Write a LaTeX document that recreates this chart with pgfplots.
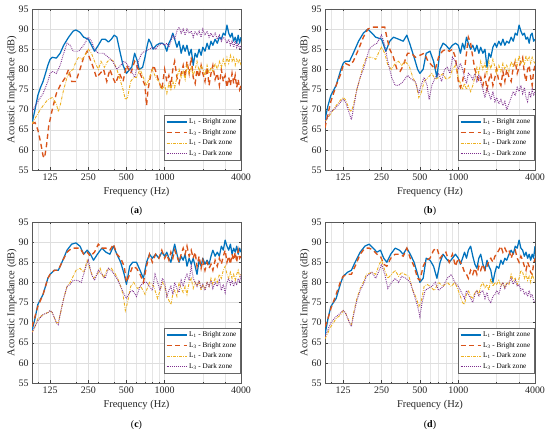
\documentclass[border=0pt]{standalone}
\usepackage{fontspec}
\setmainfont{Liberation Serif}
\usepackage{pgfplots}
\pgfplotsset{compat=1.18}
\definecolor{mblue}{rgb}{0,0.447,0.741}
\definecolor{mred}{rgb}{0.85,0.325,0.098}
\definecolor{myel}{rgb}{0.929,0.694,0.125}
\definecolor{mpur}{rgb}{0.494,0.184,0.556}
\pgfplotsset{
 myaxis/.style={
  scale only axis, width=209bp, height=161bp,
  xmin=90, xmax=4000, ymin=55, ymax=95,
  xtick={125,250,500,1000,4000}, xticklabels={125,250,500,1000,4000},
  minor xtick={100,200,300,400,600,700,800,900,2000,3000},
  ytick={55,60,...,95},
  xmajorgrids, ymajorgrids, xminorgrids,
  major grid style={black!13, line width=0.4pt},
  minor grid style={black!10, line width=0.35pt},
  tick align=inside, major tick length=2.5bp, minor tick length=1.3bp,
  every tick/.style={black!75, line width=0.4pt},
  axis line style={black!65, line width=0.5pt},
  xlabel={Frequency (Hz)}, ylabel={Acoustic Impedance (dB)},
  ylabel shift=-5bp,
  tick label style={font=\fontsize{10}{12}\selectfont, text=black!85},
  label style={font=\fontsize{10.5}{12}\selectfont, text=black!85},
  /pgf/number format/assume math mode=true,
  legend style={at={(0.995,0.06)}, anchor=south east, font=\fontsize{7.2}{8}\selectfont, draw=black!60, line width=0.4pt, inner sep=1.5pt, row sep=0pt},
  legend cell align=left,
  legend image code/.code={\draw[##1] (0bp,0bp) -- (20bp,0bp);},
 },
 sA/.style={mblue, line width=1.25bp, solid, line join=round},
 sB/.style={mred, line width=1.35bp, dash pattern=on 5bp off 3.5bp},
 sC/.style={myel, line width=0.9bp, dash pattern=on 3bp off 1.3bp on 0.6bp off 1.3bp},
 sD/.style={mpur, line width=0.95bp, dash pattern=on 0.8bp off 1.1bp},
}
\newcommand\legs{\legend{L\textsubscript{1} - Bright zone, L\textsubscript{3} - Bright zone, L\textsubscript{1} - Dark zone, L\textsubscript{3} - Dark zone}}
\begin{document}
\begin{tikzpicture}
\path[use as bounding box] (0,0) rectangle (550bp,431bp);
% ---------------- (a)
\begin{semilogxaxis}[myaxis, name=pa, at={(32bp,261bp)}, anchor=south west]
\addplot[sA] coordinates {(90,66.5)(95,70)(100,73.5)(105,75.5)(110,77)(115,79)(120,81)(125,82.5)(130,83)(140,82.8)(150,84)(160,86)(175,88)(190,89.5)(200,89.8)(215,89.2)(230,88)(250,87.5)(265,86)(280,84.5)(300,86)(320,87.5)(340,87.5)(360,86.8)(380,87.5)(400,88.5)(420,88)(440,85)(470,81)(500,79)(530,80)(550,80.5)(580,84)(610,82)(630,80)(670,80.5)(700,83)(730,86)(750,87.5)(780,86.5)(810,85)(860,86)(920,86.5)(960,86.5)
(1000,86)(1040,84.5)(1080,86.5)(1120,87.5)(1160,89)(1200,87.5)(1250,85.5)(1300,87)(1350,84)(1400,86)(1450,84.5)(1500,86)(1560,83.5)(1620,85)(1680,81)(1740,84)(1800,83)(1870,85)(1940,83.5)(2000,85.5)(2080,84.5)(2160,86.5)(2240,85)(2320,87)(2400,86)(2500,87.5)(2600,86.5)(2700,88)(2800,87.5)(2900,89)(3000,88.5)(3100,91)(3200,89)(3300,88)(3400,89)(3500,87)(3600,88)(3700,86.5)(3800,88.5)(3900,86.5)(4000,88)};
\addplot[sB] coordinates {(90,66.5)(95,66.8)(100,65)(105,62)(110,58.5)(113,58)(117,61)(122,66)(130,70)(140,74)(150,76)(165,78)(175,80)(185,77)(200,77)(215,80)(230,83)(245,84.5)(255,83)(270,81)(290,78)(310,79)(330,80)(350,77)(370,80)(390,78)(410,76.5)(440,79)(470,77)(500,81)(540,79)(580,82)(620,80)(660,78)(700,76)(720,71)(740,75)(780,79)(820,81)(860,79)(900,77)(950,75)
(1000,80)(1040,77)(1080,78.5)(1120,76)(1160,80)(1200,82)(1250,78)(1300,76.5)(1350,79)(1400,81)(1450,78)(1500,82)(1560,79)(1620,83)(1680,78)(1740,76.5)(1800,80)(1870,78)(1940,81)(2000,79)(2080,77)(2160,80.5)(2240,76)(2320,79)(2400,81)(2500,77.5)(2600,79)(2700,76)(2800,80)(2900,77)(3000,78.5)(3100,75.5)(3200,78)(3300,76)(3400,79)(3500,76.5)(3600,78.5)(3700,75.5)(3800,77.5)(3900,75)(4000,76)};
\addplot[sC] coordinates {(90,66.5)(100,69)(110,71)(120,72.5)(130,73)(140,71.5)(145,69.5)(150,71)(160,75)(170,78)(180,79.5)(190,80)(200,82)(210,83)(225,82.5)(240,84)(250,85)(265,84)(280,82)(300,80)(315,82)(335,80.5)(355,82)(375,82.5)(395,82)(420,80)(440,78)(470,75)(490,72.5)(510,73)(540,77)(570,78)(600,78)(640,80)(680,78)(720,76)(760,78)(800,80)(850,78)(900,77)(950,75)
(1000,76)(1040,74)(1080,76.5)(1120,75)(1160,77)(1200,75.5)(1250,78)(1300,80)(1350,78)(1400,79.5)(1450,77.5)(1500,81)(1560,79)(1620,80.5)(1680,78.5)(1740,80)(1800,82)(1870,79.5)(1940,81)(2000,80)(2080,78.5)(2160,81)(2240,79)(2320,80.5)(2400,79.5)(2500,81.5)(2600,80)(2700,82)(2800,80.5)(2900,82.5)(3000,81)(3100,83)(3200,81.5)(3300,83.5)(3400,82)(3500,83)(3600,81)(3700,82.5)(3800,81.5)(3900,82.5)(4000,81)};
\addplot[sD] coordinates {(90,69.5)(100,72)(110,74)(120,77)(125,79)(130,79.5)(140,79)(150,81)(160,84)(170,86.5)(180,86)(190,84.5)(210,84.5)(230,86)(250,88)(265,87)(280,85)(300,84)(330,84)(360,83)(390,82)(420,80)(450,81)(480,82)(500,81.5)(540,80)(580,78)(620,82)(660,84)(700,84.5)(760,85)(800,85.5)(850,85)(900,86)(950,86.5)
(1000,86)(1040,86.5)(1080,85.5)(1120,87)(1160,88.5)(1200,87.5)(1250,89.5)(1300,90.5)(1350,89)(1400,90)(1450,88.5)(1500,90)(1560,89)(1620,89.5)(1680,88)(1740,89.5)(1800,88.5)(1870,89.5)(1940,88)(2000,90)(2080,88.5)(2160,89.5)(2240,88)(2320,89)(2400,88)(2500,89)(2600,87.5)(2700,88.5)(2800,87)(2900,88)(3000,87.5)(3100,86.5)(3200,87.5)(3300,86)(3400,87)(3500,85.5)(3600,87)(3700,85.5)(3800,86.5)(3900,85)(4000,86)};
\legs
\end{semilogxaxis}
% ---------------- (b)
\begin{semilogxaxis}[myaxis, name=pb, at={(325bp,261bp)}, anchor=south west, width=210bp]
\addplot[sA] coordinates {(90,67.5)(95,71)(100,73.5)(110,76)(120,80)(125,81.5)(130,82)(140,82)(150,84)(165,87)(180,89)(195,90)(210,89)(225,88)(250,87.5)(270,84.5)(290,87)(310,88)(340,87.5)(370,87)(395,88.5)(420,86)(450,83)(480,80)(500,79)(530,80)(560,84)(600,84.5)(640,82)(680,78)(720,85)(760,86.5)(800,86)(850,85)(900,86)(950,86.5)
(1000,86)(1040,84)(1080,86.5)(1120,85)(1160,88)(1200,86.5)(1250,85)(1300,86)(1350,84.5)(1400,86)(1450,84)(1500,85.5)(1560,84)(1620,85)(1680,80.5)(1740,84)(1800,83)(1870,85.5)(1940,86.5)(2000,85.5)(2080,87)(2160,86)(2240,87.5)(2320,86)(2400,87)(2500,86.5)(2600,88)(2700,87)(2800,89)(2900,88.5)(3000,91)(3100,89.5)(3200,88.5)(3300,89)(3400,87.5)(3500,88)(3600,86.5)(3700,88.5)(3800,89)(3900,87)(4000,87.5)};
\addplot[sB] coordinates {(90,65.5)(95,69)(100,72)(110,76)(120,79)(125,81)(130,81.5)(140,81)(150,82)(165,85)(180,88)(195,90)(210,90.5)(230,90.5)(250,90.5)(265,90.5)(275,88)(290,85)(310,83)(330,80)(350,79.5)(370,81)(400,84)(430,84)(460,83)(500,83.5)(540,84)(580,82)(620,81)(660,80)(700,83)(750,84.5)(800,85)(850,84.5)(900,85)(950,83)
(1000,77)(1040,75.5)(1080,77)(1120,80)(1160,84)(1200,88)(1250,86.5)(1300,83)(1350,80)(1400,78.5)(1450,77)(1500,78)(1560,76)(1620,78.5)(1680,75)(1740,77.5)(1800,79)(1870,76)(1940,78)(2000,80)(2080,77)(2160,76)(2240,79.5)(2320,77)(2400,80)(2500,78)(2600,77)(2700,80.5)(2800,82)(2900,79)(3000,80.5)(3100,82)(3200,83)(3300,79)(3400,77)(3500,80)(3600,81)(3700,78)(3800,76)(3900,79.5)(4000,81)};
\addplot[sC] coordinates {(90,67)(100,69)(110,71)(120,72.5)(125,73)(130,72.5)(140,70)(145,69.5)(150,71)(160,75)(170,78)(180,81)(190,83)(210,83)(225,82.5)(240,84.5)(250,85.5)(265,84)(280,81)(300,80)(320,81.5)(340,82)(360,81)(380,82)(410,81)(440,78)(470,76)(490,73)(510,74)(540,77)(580,78)(620,79)(660,77.5)(700,78)(760,79)(800,77.5)(860,78)(900,80)(950,81)
(1000,78)(1040,76.5)(1080,75)(1120,76.5)(1160,75)(1200,76)(1250,74.5)(1300,76)(1350,78)(1400,80.5)(1450,79)(1500,82)(1560,80)(1620,81.5)(1680,79)(1740,82)(1800,80)(1870,82.5)(1940,80.5)(2000,79)(2080,81)(2160,79.5)(2240,81.5)(2320,80)(2400,81)(2500,79.5)(2600,82)(2700,80.5)(2800,82.5)(2900,81)(3000,83.5)(3100,81.5)(3200,82.5)(3300,81)(3400,83.5)(3500,82)(3600,83)(3700,81.5)(3800,83)(3900,82)(4000,81.5)};
\addplot[sD] coordinates {(90,67)(100,69.5)(110,70.5)(120,72)(125,72.5)(130,72)(140,69)(145,67.5)(150,70)(160,75)(170,78)(180,80)(190,82.5)(200,85)(215,86)(230,86.5)(250,88.5)(265,86)(280,82)(300,78)(320,76)(340,76)(370,77)(400,78.5)(430,77.5)(460,77)(490,74)(510,76)(540,78)(570,76)(590,72.5)(620,76)(660,78)(700,79)(740,77)(780,80)(820,80.5)(860,79)(900,83)(950,82)
(1000,80)(1040,81.5)(1080,80)(1120,78)(1160,76.5)(1200,79)(1250,78.5)(1300,77.5)(1350,79)(1400,77)(1450,78.5)(1500,77)(1560,75)(1620,73)(1680,75.5)(1740,74)(1800,72.5)(1870,74.5)(1940,72)(2000,73)(2080,71.5)(2160,72.5)(2240,71)(2320,72)(2400,70)(2500,71.5)(2600,73)(2700,74.5)(2800,73.5)(2900,75.5)(3000,74.5)(3100,76)(3200,74)(3300,75.5)(3400,73)(3500,72)(3600,74.5)(3700,73)(3800,75)(3900,73.5)(4000,74.5)};
\legs
\end{semilogxaxis}
% ---------------- (c)
\begin{semilogxaxis}[myaxis, name=pc, at={(32bp,48bp)}, anchor=south west]
\addplot[sA] coordinates {(90,68)(95,71)(100,74.5)(110,77)(120,81)(125,82)(135,83)(145,83)(155,85)(170,88)(185,89.5)(200,89.8)(215,89)(230,87)(245,88)(260,87)(275,85.5)(295,87)(320,88.5)(345,87.5)(370,87)(395,89)(420,87)(450,85)(480,82)(500,79.5)(530,84)(560,85)(600,85)(640,83)(680,81)(720,85)(760,87)(800,86)(850,87)(900,86)(950,87.5)
(1000,86.5)(1040,87.5)(1080,86)(1120,85)(1160,87.5)(1200,89.5)(1250,87)(1300,85)(1350,86.5)(1400,85.5)(1450,87)(1500,84)(1560,86)(1620,84.5)(1680,86)(1740,84)(1800,82)(1870,85.5)(1940,84)(2000,86)(2080,84.5)(2160,85.5)(2240,84.5)(2320,86.5)(2400,88)(2500,86.5)(2600,87.5)(2700,86.5)(2800,89)(2900,88)(3000,90.5)(3100,89)(3200,88)(3300,89.5)(3400,87)(3500,88.5)(3600,87.5)(3700,89)(3800,87)(3900,88.5)(4000,87.5)};
\addplot[sB] coordinates {(90,69)(95,71.5)(100,74)(110,77)(120,81)(125,82)(135,83)(145,83)(155,85)(170,87.5)(185,88.5)(200,88.5)(215,88.5)(230,87)(245,87.5)(260,86.5)(280,87.5)(300,89.5)(320,88.5)(345,88.5)(370,88)(395,89.5)(420,87)(450,86)(480,84)(500,80)(530,82)(560,84)(600,83.5)(640,82)(680,80)(720,84)(760,87)(800,85)(850,87)(900,86)(950,88)
(1000,86)(1040,87)(1080,85.5)(1120,87.5)(1160,86)(1200,88)(1250,86.5)(1300,85)(1350,87)(1400,88.5)(1450,87)(1500,89)(1560,86.5)(1620,88)(1680,86)(1740,87.5)(1800,84)(1870,86.5)(1940,83.5)(2000,85.5)(2080,83)(2160,85)(2240,83.5)(2320,84.5)(2400,83)(2500,85.5)(2600,84)(2700,86)(2800,84.5)(2900,86.5)(3000,88)(3100,85)(3200,86.5)(3300,84.5)(3400,87)(3500,85.5)(3600,87.5)(3700,85)(3800,88)(3900,86)(4000,86.5)};
\addplot[sC] coordinates {(90,67.5)(95,69)(100,71)(110,72)(120,72.5)(125,73)(130,72.5)(140,70)(145,70)(150,72)(160,76)(170,79)(180,80)(190,81.5)(200,83)(215,83.5)(230,82.5)(245,85.5)(260,83)(275,81)(295,82)(310,83.5)(330,81)(350,83)(380,83.5)(410,82)(440,80)(470,77)(490,73)(510,75)(540,79)(570,80)(610,78.5)(650,79)(700,77)(760,80)(820,79)(880,76)(920,78)(960,80)
(1000,79)(1040,77)(1080,75.5)(1120,74.5)(1160,77)(1200,78)(1250,76.5)(1300,80)(1350,78.5)(1400,77.5)(1450,79)(1500,77)(1560,80)(1620,81)(1680,78.5)(1740,80)(1800,79)(1870,80.5)(1940,78)(2000,79.5)(2080,78.5)(2160,80)(2240,79)(2320,81)(2400,79.5)(2500,81)(2600,80)(2700,82)(2800,81)(2900,83)(3000,84)(3100,82)(3200,81)(3300,82.5)(3400,81)(3500,82)(3600,80.5)(3700,82)(3800,83)(3900,81.5)(4000,82)};
\addplot[sD] coordinates {(90,67.5)(100,70.5)(110,72)(120,72.5)(125,73)(130,72.5)(140,70)(145,69.5)(150,72)(160,76)(170,79)(180,79.5)(190,80.5)(205,80.5)(220,80)(240,84)(250,85.5)(265,82)(280,80.5)(300,83)(320,82)(340,81)(360,83.5)(390,82.5)(420,81)(450,79)(480,77)(500,76)(530,77.5)(560,78)(600,76.5)(640,79)(680,80)(720,80)(760,79)(800,78)(840,82)(880,80)(920,78)(960,81)
(1000,80)(1040,76.5)(1080,78)(1120,79)(1160,77)(1200,80)(1250,78.5)(1300,77.5)(1350,80.5)(1400,79)(1450,81)(1500,82)(1560,80.5)(1620,84)(1680,81)(1740,80)(1800,79)(1870,80.5)(1940,78.5)(2000,79.5)(2080,78)(2160,80)(2240,79)(2320,80.5)(2400,78.5)(2500,80)(2600,79)(2700,80.5)(2800,78)(2900,79.5)(3000,77.5)(3100,80)(3200,81)(3300,79.5)(3400,80.5)(3500,79)(3600,80)(3700,79.5)(3800,81)(3900,80)(4000,82)};
\legs
\end{semilogxaxis}
% ---------------- (d)
\begin{semilogxaxis}[myaxis, name=pd, at={(325bp,48bp)}, anchor=south west, width=210bp]
\addplot[sA] coordinates {(90,67)(95,71)(100,74)(110,76)(120,80)(125,81.5)(135,82.5)(145,83)(155,85)(170,87.5)(185,89)(200,89.5)(215,88.5)(230,87.5)(245,88)(260,86)(275,85)(295,87)(320,88.5)(345,88)(370,87)(395,88.5)(420,87)(450,85)(480,82)(500,80)(530,81)(560,86)(600,85.5)(640,84)(680,81)(720,85)(760,87)(800,86)(850,85)(900,86)(950,87)
(1000,86)(1040,84.5)(1080,86)(1120,87.5)(1160,86)(1200,88)(1250,89)(1300,86.5)(1350,84.5)(1400,83.5)(1450,86)(1500,87)(1560,84.5)(1620,83)(1680,85.5)(1740,84)(1800,83)(1870,80)(1940,82.5)(2000,84)(2080,83.5)(2160,85.5)(2240,84.5)(2320,86)(2400,85.5)(2500,87)(2600,88)(2700,87)(2800,89)(2900,88.5)(3000,90.5)(3100,88.5)(3200,88)(3300,86.5)(3400,87.5)(3500,86)(3600,87)(3700,85.5)(3800,87)(3900,86)(4000,89)};
\addplot[sB] coordinates {(90,69)(95,71)(100,73.5)(110,77)(120,80.5)(125,81.5)(135,82)(145,82)(155,84)(170,87)(185,88.5)(200,88.5)(215,88)(230,87)(245,86.5)(260,84.5)(275,84)(295,86)(320,87)(345,87)(370,86.5)(395,88.5)(420,86)(450,84)(480,81)(500,80.5)(530,84)(560,85.5)(600,86)(640,88)(680,88.5)(720,86)(760,87)(800,87.5)(850,85)(900,87)(950,84)
(1000,86)(1040,85)(1080,84)(1120,82.5)(1160,82)(1200,81)(1250,83)(1300,82)(1350,83.5)(1400,82)(1450,84)(1500,83)(1560,84.5)(1620,83)(1680,84)(1740,85.5)(1800,86)(1870,85)(1940,86.5)(2000,87)(2080,88)(2160,89)(2240,87.5)(2320,88.5)(2400,87.5)(2500,88)(2600,86)(2700,87.5)(2800,88)(2900,86)(3000,85)(3100,86.5)(3200,85.5)(3300,84)(3400,83)(3500,85)(3600,84)(3700,82.5)(3800,82)(3900,84.5)(4000,86)};
\addplot[sC] coordinates {(90,66)(100,69)(110,71)(120,72)(125,73)(130,72.5)(140,70)(145,69.5)(150,72)(160,76)(170,78.5)(180,80)(190,82)(210,82.5)(225,82)(240,84.5)(250,85.5)(265,83)(280,81)(300,82)(320,83)(340,81.5)(360,82.5)(380,82)(410,81.5)(440,78)(470,76)(490,74)(510,75)(540,79)(570,79.5)(600,79)(650,78)(700,80)(760,79)(820,80)(880,79)(940,80)
(1000,78)(1040,76.5)(1080,75)(1120,74.5)(1160,77)(1200,78)(1250,76.5)(1300,76)(1350,77.5)(1400,78)(1450,77)(1500,79)(1560,80)(1620,78.5)(1680,79.5)(1740,78)(1800,81)(1870,79)(1940,80)(2000,79.5)(2080,80.5)(2160,79)(2240,80)(2320,78.5)(2400,80)(2500,79.5)(2600,82)(2700,80.5)(2800,81)(2900,79.5)(3000,81)(3100,83)(3200,82.5)(3300,81)(3400,82)(3500,80.5)(3600,81.5)(3700,80)(3800,82)(3900,81)(4000,80)};
\addplot[sD] coordinates {(90,66.5)(100,70)(110,71.5)(120,72.5)(125,73)(130,72.5)(140,70)(145,69)(150,71.5)(160,75.5)(170,78)(180,79.5)(190,81.5)(210,82.5)(225,81)(240,83)(250,84.5)(265,82)(280,78.5)(300,80)(320,81)(340,80)(360,81.5)(390,81)(420,80)(450,77)(480,74)(500,71.5)(520,75)(550,78)(580,78.5)(620,79)(660,80)(700,78)(760,79)(820,81)(880,82)(940,80)
(1000,79)(1040,78)(1080,77)(1120,76)(1160,78)(1200,77)(1250,76)(1300,75)(1350,77)(1400,78)(1450,76.5)(1500,77.5)(1560,78)(1620,76)(1680,77.5)(1740,75.5)(1800,75)(1870,76.5)(1940,77)(2000,78)(2080,77)(2160,79)(2240,80)(2320,78.5)(2400,79.5)(2500,80)(2600,81)(2700,79.5)(2800,80.5)(2900,79)(3000,79.5)(3100,78)(3200,78.5)(3300,77)(3400,77.5)(3500,76.5)(3600,78)(3700,76.5)(3800,77)(3900,75.5)(4000,75)};
\legs
\end{semilogxaxis}
\node[font=\fontsize{10}{12}\selectfont] at ([yshift=-41bp]pa.south) {(\textbf{a})};
\node[font=\fontsize{10}{12}\selectfont] at ([yshift=-41bp]pb.south) {(\textbf{b})};
\node[font=\fontsize{10}{12}\selectfont] at ([yshift=-42bp]pc.south) {(\textbf{c})};
\node[font=\fontsize{10}{12}\selectfont] at ([yshift=-42bp]pd.south) {(\textbf{d})};
\end{tikzpicture}
\end{document}
